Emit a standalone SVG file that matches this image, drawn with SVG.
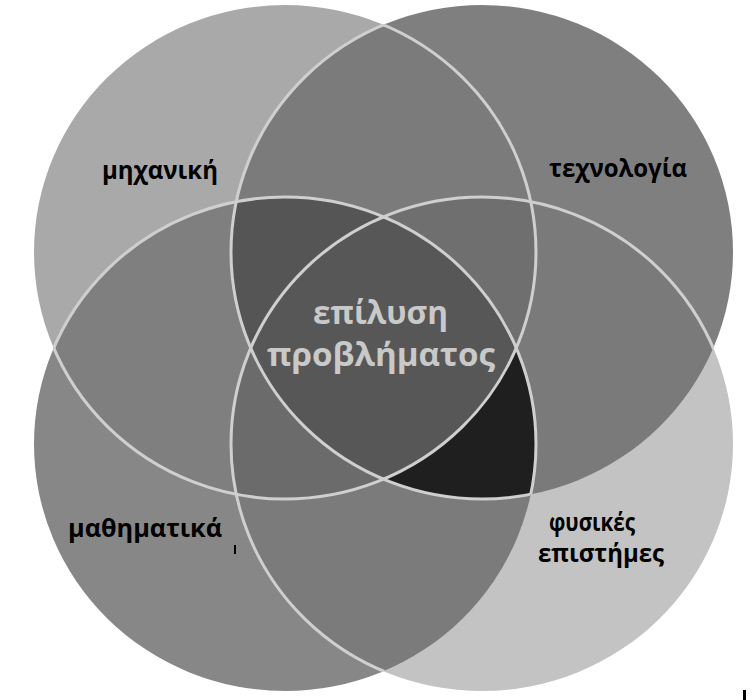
<svg xmlns="http://www.w3.org/2000/svg" width="754" height="700" viewBox="0 0 754 700">
<style>
  .lbl { font-family: "Open Sans", "Noto Sans", "DejaVu Sans", sans-serif; font-weight: 700; font-size: 25px; fill: #000; text-anchor: middle; }
  .ctr { font-family: "Open Sans", "Noto Sans", "DejaVu Sans", sans-serif; font-weight: 700; font-size: 32px; fill: #c9c9c9; text-anchor: middle; }
  .ol { fill: none; stroke: #cfcfcf; stroke-width: 3; }
</style>
<defs>
  <clipPath id="cA"><ellipse cx="285" cy="252" rx="251" ry="247"/></clipPath>
  <clipPath id="cB"><ellipse cx="482" cy="252" rx="251" ry="247"/></clipPath>
  <clipPath id="cC"><ellipse cx="285" cy="444" rx="251" ry="247"/></clipPath>
  <clipPath id="cD"><ellipse cx="482" cy="444" rx="251" ry="247"/></clipPath>
  <clipPath id="uBCD">
    <ellipse cx="482" cy="252" rx="251" ry="247"/>
    <ellipse cx="285" cy="444" rx="251" ry="247"/>
    <ellipse cx="482" cy="444" rx="251" ry="247"/>
  </clipPath>
  <clipPath id="uAC">
    <ellipse cx="285" cy="252" rx="251" ry="247"/>
    <ellipse cx="285" cy="444" rx="251" ry="247"/>
  </clipPath>
  <clipPath id="uAB">
    <ellipse cx="285" cy="252" rx="251" ry="247"/>
    <ellipse cx="482" cy="252" rx="251" ry="247"/>
  </clipPath>
  <clipPath id="uABC">
    <ellipse cx="285" cy="252" rx="251" ry="247"/>
    <ellipse cx="482" cy="252" rx="251" ry="247"/>
    <ellipse cx="285" cy="444" rx="251" ry="247"/>
  </clipPath>
</defs>
<rect width="754" height="700" fill="#ffffff"/>
<g id="regions">
  <ellipse id="circle-mechanics" cx="285" cy="252" rx="251" ry="247" fill="#a9a9a9"/>
  <ellipse id="circle-technology" cx="482" cy="252" rx="251" ry="247" fill="#7f7f7f"/>
  <ellipse id="circle-mathematics" cx="285" cy="444" rx="251" ry="247" fill="#878787"/>
  <ellipse id="circle-sciences" cx="482" cy="444" rx="251" ry="247" fill="#c3c3c3"/>
  <g clip-path="url(#cA)"><ellipse cx="482" cy="252" rx="251" ry="247" fill="#7b7b7b"/></g>
  <g clip-path="url(#cA)"><ellipse cx="285" cy="444" rx="251" ry="247" fill="#7f7f7f"/></g>
  <g clip-path="url(#cB)"><ellipse cx="482" cy="444" rx="251" ry="247" fill="#7a7a7a"/></g>
  <g clip-path="url(#cC)"><ellipse cx="482" cy="444" rx="251" ry="247" fill="#7b7b7b"/></g>
  <g clip-path="url(#cA)"><g clip-path="url(#cB)"><ellipse cx="285" cy="444" rx="251" ry="247" fill="#555555"/></g></g>
  <g clip-path="url(#cA)"><g clip-path="url(#cB)"><ellipse cx="482" cy="444" rx="251" ry="247" fill="#6f6f6f"/></g></g>
  <g clip-path="url(#cA)"><g clip-path="url(#cC)"><ellipse cx="482" cy="444" rx="251" ry="247" fill="#6b6b6b"/></g></g>
  <g clip-path="url(#cB)"><g clip-path="url(#cC)"><ellipse cx="482" cy="444" rx="251" ry="247" fill="#1f1f1f"/></g></g>
  <g clip-path="url(#cA)"><g clip-path="url(#cB)"><g clip-path="url(#cC)"><ellipse cx="482" cy="444" rx="251" ry="247" fill="#575757"/></g></g></g>
</g>
<g id="outlines">
  <g clip-path="url(#uBCD)"><ellipse class="ol" cx="285" cy="252" rx="251" ry="247"/></g>
  <g clip-path="url(#uAC)"><ellipse class="ol" cx="482" cy="252" rx="251" ry="247"/></g>
  <g clip-path="url(#uAB)"><ellipse class="ol" cx="285" cy="444" rx="251" ry="247"/></g>
  <g clip-path="url(#uABC)"><ellipse class="ol" cx="482" cy="444" rx="251" ry="247"/></g>
</g>
<g id="node-mechanics"><text class="lbl" x="160" y="179" textLength="116" lengthAdjust="spacingAndGlyphs">μηχανική</text></g>
<g id="node-technology"><text class="lbl" x="618" y="177" textLength="138" lengthAdjust="spacingAndGlyphs">τεχνολογία</text></g>
<g id="node-mathematics"><text class="lbl" x="145" y="537" textLength="154" lengthAdjust="spacingAndGlyphs">μαθηματικά</text></g>
<g id="node-sciences"><text class="lbl" x="592" y="531" textLength="86" lengthAdjust="spacingAndGlyphs">φυσικές</text><text class="lbl" x="601" y="562" textLength="126" lengthAdjust="spacingAndGlyphs">επιστήμες</text></g>
<g id="node-problem-solving"><text class="ctr" x="380.5" y="324" textLength="135" lengthAdjust="spacingAndGlyphs">επίλυση</text><text class="ctr" x="381" y="366" textLength="228" lengthAdjust="spacingAndGlyphs">προβλήματος</text></g>
<g id="marks">
  <rect x="234" y="545" width="2" height="9" fill="#000"/>
  <rect x="743" y="690" width="3" height="10" fill="#000"/>
</g>
</svg>
